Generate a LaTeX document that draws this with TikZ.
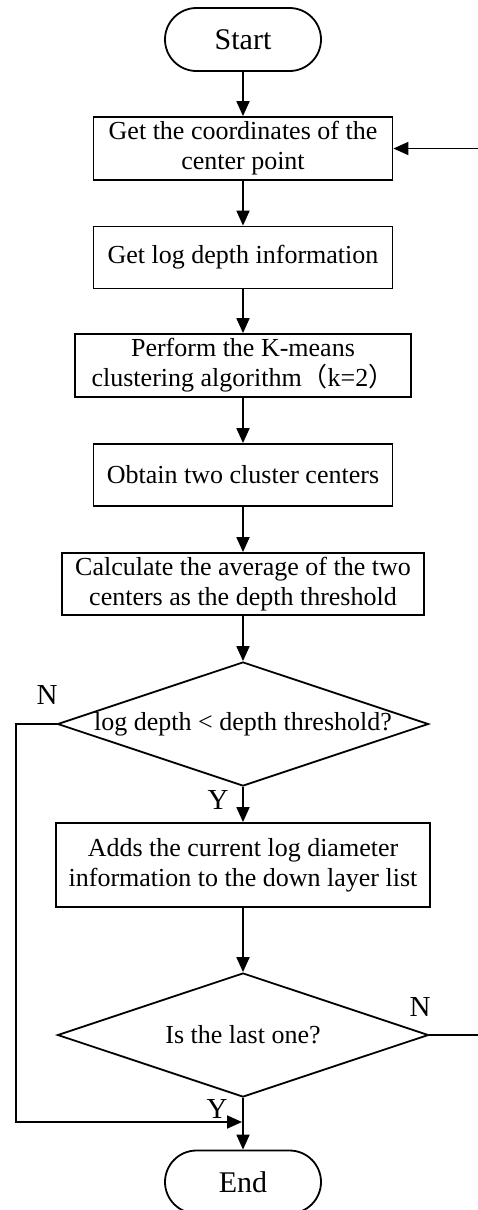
\documentclass[tikz,border=0pt]{standalone}
\usepackage{fontspec}
\setmainfont{Liberation Serif}
\newfontfamily\cjk{Noto Sans CJK SC}
\usetikzlibrary{shapes.geometric,shapes.misc,arrows.meta}

\begin{document}
\begin{tikzpicture}[x=1pt,y=-1pt,
  line width=1.8pt,
  >={Triangle[length=15pt,width=13pt]},
  every node/.style={font=\fontsize{26}{30}\selectfont, align=center, inner sep=0pt},
  proc/.style={draw, rectangle, minimum height=63pt},
  term/.style={draw, rounded rectangle, minimum width=156pt, minimum height=63pt,
    font=\fontsize{30}{36}\selectfont},
  decision/.style={draw, diamond, aspect=3, minimum width=371pt, minimum height=124pt},
  lbl/.style={font=\fontsize{29}{34}\selectfont}
]
\useasboundingbox (0,0) rectangle (477,1210);

% main column
\node[term] (start) at (243,39.5) {Start};
\node[proc, minimum width=299pt] (b1) at (243,148.5)
  {Get the coordinates of the\\center point};
\node[proc, minimum width=299pt, minimum height=62pt] (b2) at (243,257.5)
  {Get log depth information};
\node[proc, minimum width=336pt] (b3) at (243,365.5)
  {Perform the K-means\\clustering algorithm{\cjk （}k=2{\cjk ）}};
\node[proc, minimum width=299pt, minimum height=62pt] (b4) at (243,475)
  {Obtain two cluster centers};
\node[proc, minimum width=362pt, minimum height=62pt] (b5) at (243,584)
  {Calculate the average of the two\\centers as the depth threshold};
\node[decision] (d1) at (243,724) {log depth < depth threshold?};
\node[proc, minimum width=374pt, minimum height=84pt] (b6) at (243,865)
  {Adds the current log diameter\\information to the down layer list};
\node[decision] (d2) at (243,1035) {Is the last one?};
\node[term] (end) at (243,1182) {End};

% branch labels
\node[lbl] (n1) at (47,695) {N};
\node[lbl] (y1) at (218,800) {Y};
\node[lbl] (n2) at (420,1007) {N};
\node[lbl] (y2) at (217,1109) {Y};

\coordinate (merge) at (242,1122);

% connectors
\draw[->] (start) -- (b1);
\draw[->] (b1) -- (b2);
\draw[->] (b2) -- (b3);
\draw[->] (b3) -- (b4);
\draw[->] (b4) -- (b5);
\draw[->] (b5) -- (d1);
\draw[->] (d1) -- (b6);
\draw[->] (b6) -- (d2);
\draw[->] (d2) -- (end);
\draw[->] (d1.west) -| (16,1122) -- (merge);
\draw[->] (d2.east) -- (479,1035) |- (b1.east);
\end{tikzpicture}
\end{document}
